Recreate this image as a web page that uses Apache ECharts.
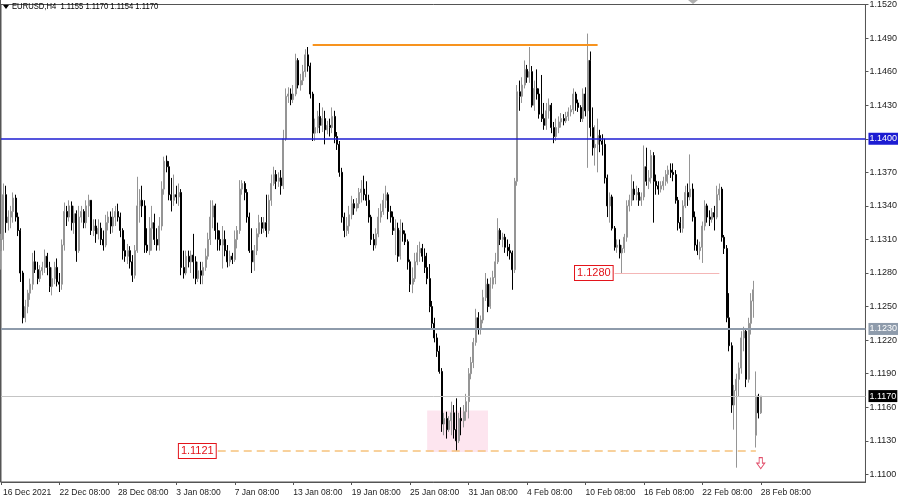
<!DOCTYPE html>
<html><head><meta charset="utf-8">
<script src="https://cdn.jsdelivr.net/npm/echarts@6/dist/echarts.min.js"></script>
<style>html,body{margin:0;padding:0;background:#fff}#c{width:900px;height:502px}</style>
</head><body><div id="c"></div>
<script>
// ---- DATA (EURUSD H4) : each candle = [open, close, low, high] ----
const symbolName = 'EURUSD,H4';
const wk16Dec = [
[1.1300,1.1310,1.1283,1.1315],[1.1310,1.1350,1.1300,1.1360],[1.1350,1.1325,1.1316,1.1358],[1.1325,1.1330,1.1318,1.1336],
[1.1330,1.1335,1.1320,1.1340],[1.1335,1.1347,1.1325,1.1352],[1.1347,1.1330,1.1326,1.1350],[1.1330,1.1318,1.1313,1.1334],
[1.1318,1.1280,1.1272,1.1320],[1.1280,1.1240,1.1235,1.1282],[1.1240,1.1250,1.1236,1.1256],[1.1250,1.1262,1.1244,1.1265],
[1.1262,1.1270,1.1256,1.1275],[1.1270,1.1290,1.1265,1.1298],[1.1290,1.1283,1.1280,1.1300],[1.1283,1.1275,1.1270,1.1290],
[1.1275,1.1282,1.1272,1.1287],[1.1282,1.1285,1.1278,1.1290],[1.1285,1.1295,1.1280,1.1301],[1.1295,1.1285,1.1278,1.1298],
[1.1285,1.1268,1.1263,1.1290],[1.1268,1.1275,1.1260,1.1285],[1.1275,1.1285,1.1270,1.1290],[1.1285,1.1272,1.1268,1.1293]];
const wk22Dec = [
[1.1272,1.1270,1.1263,1.1280],[1.1270,1.1305,1.1265,1.1310],[1.1305,1.1335,1.1300,1.1343],[1.1335,1.1330,1.1322,1.1340],
[1.1330,1.1340,1.1326,1.1345],[1.1340,1.1325,1.1318,1.1344],[1.1325,1.1333,1.1315,1.1340],[1.1333,1.1300,1.1290,1.1336],
[1.1300,1.1330,1.1298,1.1340],[1.1330,1.1335,1.1325,1.1340],[1.1335,1.1325,1.1320,1.1337],[1.1325,1.1340,1.1320,1.1345],
[1.1340,1.1345,1.1330,1.1350],[1.1345,1.1318,1.1314,1.1345],[1.1318,1.1322,1.1313,1.1328],[1.1322,1.1315,1.1307,1.1328],
[1.1315,1.1320,1.1310,1.1328],[1.1320,1.1310,1.1305,1.1325],[1.1310,1.1305,1.1300,1.1318],[1.1305,1.1325,1.1303,1.1332],
[1.1325,1.1330,1.1318,1.1335],[1.1330,1.1322,1.1315,1.1335],[1.1322,1.1330,1.1316,1.1338],[1.1330,1.1335,1.1322,1.1340]];
const wk28Dec = [
[1.1335,1.1330,1.1326,1.1342],[1.1330,1.1318,1.1312,1.1334],[1.1318,1.1300,1.1292,1.1320],[1.1300,1.1295,1.1290,1.1310],
[1.1295,1.1300,1.1288,1.1306],[1.1300,1.1290,1.1284,1.1304],[1.1290,1.1278,1.1272,1.1296],[1.1278,1.1300,1.1275,1.1305],
[1.1300,1.1340,1.1298,1.1366],[1.1340,1.1345,1.1325,1.1355],[1.1345,1.1340,1.1330,1.1358],[1.1340,1.1305,1.1298,1.1345],
[1.1305,1.1300,1.1298,1.1320],[1.1300,1.1320,1.1296,1.1330],[1.1320,1.1325,1.1300,1.1340],[1.1325,1.1310,1.1305,1.1333],
[1.1310,1.1305,1.1300,1.1320],[1.1305,1.1322,1.1300,1.1330],[1.1322,1.1355,1.1318,1.1362],[1.1355,1.1380,1.1350,1.1384],
[1.1380,1.1375,1.1370,1.1385],[1.1375,1.1350,1.1345,1.1380],[1.1350,1.1345,1.1335,1.1365],[1.1345,1.1350,1.1340,1.1368]];
const wk3Jan = [
[1.1350,1.1348,1.1342,1.1358],[1.1348,1.1352,1.1340,1.1360],[1.1352,1.1285,1.1278,1.1355],[1.1285,1.1280,1.1275,1.1300],
[1.1280,1.1295,1.1278,1.1300],[1.1295,1.1290,1.1285,1.1300],[1.1290,1.1296,1.1280,1.1300],[1.1296,1.1290,1.1275,1.1315],
[1.1290,1.1275,1.1270,1.1295],[1.1275,1.1282,1.1272,1.1290],[1.1282,1.1278,1.1270,1.1290],[1.1278,1.1285,1.1270,1.1290],
[1.1285,1.1295,1.1282,1.1302],[1.1295,1.1310,1.1292,1.1316],[1.1310,1.1330,1.1305,1.1345],[1.1330,1.1340,1.1320,1.1345],
[1.1340,1.1318,1.1310,1.1342],[1.1318,1.1310,1.1300,1.1325],[1.1310,1.1305,1.1300,1.1318],[1.1305,1.1310,1.1284,1.1322],
[1.1310,1.1300,1.1295,1.1318],[1.1300,1.1290,1.1285,1.1305],[1.1290,1.1295,1.1286,1.1300],[1.1295,1.1292,1.1288,1.1298]];
const wk7Jan = [
[1.1292,1.1310,1.1290,1.1318],[1.1310,1.1318,1.1302,1.1322],[1.1318,1.1355,1.1315,1.1363],[1.1355,1.1360,1.1350,1.1363],
[1.1360,1.1352,1.1345,1.1362],[1.1352,1.1330,1.1325,1.1355],[1.1330,1.1300,1.1298,1.1334],[1.1300,1.1290,1.1280,1.1320],
[1.1290,1.1300,1.1282,1.1305],[1.1300,1.1315,1.1296,1.1320],[1.1315,1.1325,1.1312,1.1332],[1.1325,1.1320,1.1315,1.1330],
[1.1320,1.1325,1.1316,1.1330],[1.1325,1.1318,1.1312,1.1350],[1.1318,1.1345,1.1315,1.1350],[1.1345,1.1360,1.1340,1.1368],
[1.1360,1.1368,1.1358,1.1375],[1.1368,1.1362,1.1355,1.1372],[1.1362,1.1365,1.1357,1.1370],[1.1365,1.1358,1.1350,1.1372],
[1.1358,1.1400,1.1355,1.1408],[1.1400,1.1438,1.1398,1.1445],[1.1438,1.1440,1.1432,1.1446],[1.1440,1.1435,1.1430,1.1445]];
const wk13Jan = [
[1.1435,1.1440,1.1432,1.1448],[1.1440,1.1470,1.1438,1.1476],[1.1470,1.1448,1.1445,1.1472],[1.1448,1.1452,1.1443,1.1458],
[1.1452,1.1460,1.1448,1.1466],[1.1460,1.1475,1.1455,1.1480],[1.1475,1.1465,1.1460,1.1482],[1.1465,1.1440,1.1436,1.1468],
[1.1440,1.1405,1.1398,1.1442],[1.1405,1.1410,1.1398,1.1418],[1.1410,1.1420,1.1405,1.1425],[1.1420,1.1412,1.1405,1.1432],
[1.1412,1.1418,1.1406,1.1428],[1.1418,1.1408,1.1395,1.1425],[1.1408,1.1412,1.1404,1.1416],[1.1412,1.1410,1.1402,1.1418],
[1.1410,1.1420,1.1405,1.1428],[1.1420,1.1402,1.1396,1.1425],[1.1402,1.1395,1.1390,1.1406],[1.1395,1.1370,1.1366,1.1398],
[1.1370,1.1330,1.1325,1.1374],[1.1330,1.1318,1.1312,1.1334],[1.1318,1.1322,1.1313,1.1330],[1.1322,1.1332,1.1315,1.1340]];
const wk19Jan = [
[1.1332,1.1342,1.1328,1.1349],[1.1342,1.1338,1.1332,1.1346],[1.1338,1.1342,1.1335,1.1347],[1.1342,1.1352,1.1338,1.1356],
[1.1352,1.1355,1.1343,1.1363],[1.1355,1.1350,1.1345,1.1367],[1.1350,1.1345,1.1340,1.1362],[1.1345,1.1330,1.1325,1.1350],
[1.1330,1.1310,1.1305,1.1332],[1.1310,1.1305,1.1300,1.1315],[1.1305,1.1315,1.1302,1.1320],[1.1315,1.1330,1.1312,1.1338],
[1.1330,1.1335,1.1325,1.1342],[1.1335,1.1345,1.1332,1.1351],[1.1345,1.1350,1.1338,1.1358],[1.1350,1.1335,1.1328,1.1352],
[1.1335,1.1330,1.1325,1.1340],[1.1330,1.1318,1.1314,1.1335],[1.1318,1.1320,1.1296,1.1328],[1.1320,1.1295,1.1290,1.1325],
[1.1295,1.1318,1.1292,1.1328],[1.1318,1.1315,1.1308,1.1325],[1.1315,1.1308,1.1305,1.1318],[1.1308,1.1290,1.1283,1.1310]];
const wk25Jan = [
[1.1290,1.1270,1.1263,1.1292],[1.1270,1.1275,1.1262,1.1285],[1.1275,1.1290,1.1272,1.1298],[1.1290,1.1298,1.1287,1.1305],
[1.1298,1.1302,1.1290,1.1308],[1.1302,1.1295,1.1290,1.1306],[1.1295,1.1285,1.1280,1.1302],[1.1285,1.1275,1.1270,1.1298],
[1.1275,1.1250,1.1245,1.1288],[1.1250,1.1235,1.1230,1.1255],[1.1235,1.1222,1.1218,1.1240],[1.1222,1.1210,1.1205,1.1226],
[1.1210,1.1192,1.1190,1.1215],[1.1192,1.1145,1.1138,1.1195],[1.1145,1.1150,1.1135,1.1155],[1.1150,1.1140,1.1132,1.1156],
[1.1140,1.1148,1.1138,1.1152],[1.1148,1.1155,1.1135,1.1165],[1.1155,1.1140,1.1132,1.1162],[1.1140,1.1130,1.1121,1.1168],
[1.1130,1.1150,1.1128,1.1155],[1.1150,1.1148,1.1135,1.1160],[1.1148,1.1156,1.1142,1.1162],[1.1156,1.1165,1.1148,1.1172]];
const wk31Jan = [
[1.1165,1.1190,1.1150,1.1195],[1.1190,1.1200,1.1185,1.1205],[1.1200,1.1218,1.1195,1.1222],[1.1218,1.1240,1.1215,1.1248],
[1.1240,1.1230,1.1225,1.1245],[1.1230,1.1238,1.1225,1.1242],[1.1238,1.1258,1.1235,1.1265],[1.1258,1.1270,1.1255,1.1280],
[1.1270,1.1250,1.1245,1.1275],[1.1250,1.1270,1.1248,1.1276],[1.1270,1.1276,1.1266,1.1282],[1.1276,1.1290,1.1270,1.1298],
[1.1290,1.1318,1.1288,1.1329],[1.1318,1.1310,1.1305,1.1320],[1.1310,1.1312,1.1303,1.1316],[1.1312,1.1303,1.1298,1.1315],
[1.1303,1.1300,1.1295,1.1310],[1.1300,1.1298,1.1292,1.1306],[1.1298,1.1283,1.1265,1.1300],[1.1283,1.1362,1.1280,1.1365],
[1.1362,1.1442,1.1358,1.1448],[1.1442,1.1438,1.1425,1.1452],[1.1438,1.1448,1.1432,1.1455],[1.1448,1.1462,1.1445,1.1470]];
const wk4Feb = [
[1.1462,1.1455,1.1450,1.1466],[1.1455,1.1460,1.1450,1.1482],[1.1460,1.1430,1.1428,1.1465],[1.1430,1.1445,1.1425,1.1452],
[1.1445,1.1440,1.1435,1.1462],[1.1440,1.1422,1.1418,1.1445],[1.1422,1.1418,1.1415,1.1457],[1.1418,1.1412,1.1408,1.1432],
[1.1412,1.1425,1.1408,1.1432],[1.1425,1.1430,1.1418,1.1436],[1.1430,1.1410,1.1405,1.1432],[1.1410,1.1402,1.1396,1.1415],
[1.1402,1.1410,1.1398,1.1418],[1.1410,1.1415,1.1405,1.1420],[1.1415,1.1418,1.1410,1.1423],[1.1418,1.1416,1.1412,1.1422],
[1.1416,1.1420,1.1414,1.1424],[1.1420,1.1424,1.1416,1.1428],[1.1424,1.1426,1.1420,1.1430],[1.1426,1.1440,1.1422,1.1445],
[1.1440,1.1432,1.1425,1.1442],[1.1432,1.1428,1.1424,1.1435],[1.1428,1.1418,1.1415,1.1430],[1.1418,1.1440,1.1415,1.1445]];
const wk10Feb = [
[1.1440,1.1425,1.1420,1.1446],[1.1425,1.1470,1.1374,1.1494],[1.1470,1.1410,1.1402,1.1478],[1.1410,1.1392,1.1385,1.1428],
[1.1392,1.1395,1.1376,1.1412],[1.1395,1.1403,1.1370,1.1418],[1.1403,1.1398,1.1388,1.1408],[1.1398,1.1395,1.1385,1.1404],
[1.1395,1.1365,1.1360,1.1400],[1.1365,1.1340,1.1330,1.1368],[1.1340,1.1348,1.1325,1.1352],[1.1348,1.1320,1.1318,1.1350],
[1.1320,1.1303,1.1300,1.1322],[1.1303,1.1305,1.1298,1.1310],[1.1305,1.1298,1.1293,1.1310],[1.1298,1.1302,1.1280,1.1305],
[1.1302,1.1312,1.1298,1.1315],[1.1312,1.1340,1.1308,1.1345],[1.1340,1.1345,1.1335,1.1350],[1.1345,1.1355,1.1340,1.1368],
[1.1355,1.1350,1.1345,1.1362],[1.1350,1.1352,1.1345,1.1358],[1.1352,1.1345,1.1340,1.1356],[1.1345,1.1348,1.1340,1.1352]];
const wk16Feb = [
[1.1348,1.1375,1.1345,1.1394],[1.1375,1.1362,1.1358,1.1392],[1.1362,1.1365,1.1355,1.1372],[1.1365,1.1385,1.1360,1.1390],
[1.1385,1.1362,1.1325,1.1388],[1.1362,1.1358,1.1350,1.1368],[1.1358,1.1355,1.1350,1.1362],[1.1355,1.1358,1.1352,1.1362],
[1.1358,1.1362,1.1354,1.1366],[1.1362,1.1368,1.1358,1.1372],[1.1368,1.1372,1.1360,1.1376],[1.1372,1.1370,1.1365,1.1378],
[1.1370,1.1368,1.1362,1.1378],[1.1368,1.1345,1.1342,1.1372],[1.1345,1.1325,1.1318,1.1348],[1.1325,1.1320,1.1316,1.1330],
[1.1320,1.1340,1.1316,1.1345],[1.1340,1.1352,1.1338,1.1358],[1.1352,1.1348,1.1340,1.1360],[1.1348,1.1355,1.1345,1.1386],
[1.1355,1.1330,1.1326,1.1360],[1.1330,1.1305,1.1300,1.1335],[1.1305,1.1300,1.1296,1.1310],[1.1300,1.1303,1.1292,1.1308]];
const wk22Feb = [
[1.1303,1.1322,1.1289,1.1326],[1.1322,1.1340,1.1318,1.1345],[1.1340,1.1330,1.1325,1.1342],[1.1330,1.1328,1.1322,1.1336],
[1.1328,1.1334,1.1325,1.1338],[1.1334,1.1330,1.1318,1.1340],[1.1330,1.1350,1.1328,1.1358],[1.1350,1.1355,1.1345,1.1360],
[1.1355,1.1312,1.1308,1.1357],[1.1312,1.1302,1.1297,1.1314],[1.1302,1.1240,1.1236,1.1305],[1.1240,1.1215,1.1210,1.1262],
[1.1215,1.1162,1.1155,1.1218],[1.1162,1.1175,1.1140,1.1180],[1.1175,1.1185,1.1106,1.1190],[1.1185,1.1195,1.1170,1.1200],
[1.1195,1.1222,1.1190,1.1228],[1.1222,1.1228,1.1210,1.1232],[1.1228,1.1185,1.1178,1.1230],[1.1185,1.1235,1.1182,1.1240],
[1.1235,1.1255,1.1225,1.1262],[1.1255,1.1265,1.1240,1.1273],[1.1135,1.1170,1.1124,1.1192],[1.1170,1.1155,1.1150,1.1172]];
const wk28Feb = [[1.1155,1.1170,1.1154,1.1170]];

const timeLabels = ['16 Dec 2021','22 Dec 08:00','28 Dec 08:00','3 Jan 08:00','7 Jan 08:00','13 Jan 08:00','19 Jan 08:00',
  '25 Jan 08:00','31 Jan 08:00','4 Feb 08:00','10 Feb 08:00','16 Feb 08:00','22 Feb 08:00','28 Feb 08:00'];
const timeLabelBars = [0,24,48,72,96,120,144,168,192,216,240,264,288,312];
const priceTicks = [1.1100,1.1130,1.1160,1.1190,1.1220,1.1250,1.1280,1.1310,1.1340,1.1370,1.1400,1.1430,1.1460,1.1490,1.1520];

// levels / annotations (prices)
const blueLevel = 1.1400;
const greyLevel = 1.1230;
const bidLevel = 1.1170;
const topLevel = 1.1484;       // orange resistance
const lowLevel = 1.1121;       // dashed support
const midLevel = 1.1280;       // Feb 14 low
const zoneTop = 1.1157, zoneBottom = 1.1120;

// ---- build ----
const candles = [].concat(wk16Dec, wk22Dec, wk28Dec, wk3Jan, wk7Jan, wk13Jan, wk19Jan, wk25Jan,
  wk31Jan, wk4Feb, wk10Feb, wk16Feb, wk22Feb, wk28Feb);
const totalSlots = 356;
const cats = Array.from({length: totalSlots}, (_, i) => String(i));
const last = candles[candles.length - 1];
const isLabel = (i) => timeLabelBars.indexOf(i) >= 0;

const chart = echarts.init(document.getElementById('c'), null, {renderer: 'canvas'});
const FONT = 'Liberation Sans, Arial, sans-serif';
const tag = (txt, bg) => ({show: true, position: 'end', formatter: txt, color: '#fff', backgroundColor: bg,
  padding: [2, 1, 1, 1], fontSize: 9, fontFamily: FONT, distance: 3});
const boxed = (txt) => ({show: true, position: 'start', formatter: txt, color: '#e3141b', backgroundColor: '#fff',
  borderColor: '#e3141b', borderWidth: 1, padding: [2, 2, 1, 2], fontSize: 11, fontFamily: FONT, distance: 2});

chart.setOption({
  animation: false,
  backgroundColor: '#fff',
  grid: {left: -3.3, right: 33, top: 0, bottom: 20, show: true, borderColor: '#555', borderWidth: 1},
  graphic: [
    {type: 'line', shape: {x1: 0.5, y1: 0, x2: 0.5, y2: 482}, style: {stroke: '#555', lineWidth: 1}},
    {type: 'polygon', shape: {points: [[3, 5], [9, 5], [6, 9]]}, style: {fill: '#000'}},
    {type: 'text', x: 12, y: 2, scaleX: 0.85, style: {text: symbolName + '  ' + last[0].toFixed(4) + ' ' + last[3].toFixed(4) + ' ' +
      last[2].toFixed(4) + ' ' + last[1].toFixed(4), fill: '#000', font: '9px ' + FONT}},
    {type: 'polygon', shape: {points: [[688, 0], [698, 0], [693, 4]]}, style: {fill: '#b0b0b0'}}
  ],
  xAxis: {
    type: 'category', data: cats, boundaryGap: false,
    axisLine: {show: true, lineStyle: {color: '#555'}},
    axisTick: {show: true, interval: (i) => isLabel(i), length: 3, lineStyle: {color: '#555'}},
    axisLabel: {interval: (i) => isLabel(i),
      formatter: (v) => { const k = timeLabelBars.indexOf(+v); return k === 0 ? '{f|' + timeLabels[0] + '}' : (timeLabels[k] || ''); },
      rich: {f: {padding: [0, 0, 0, 2], fontSize: 8.5, color: '#222', fontFamily: FONT}},
      align: 'left', fontSize: 8.5, color: '#222', margin: 6, fontFamily: FONT},
    splitLine: {show: false}
  },
  yAxis: {
    type: 'value', position: 'right', min: 1.10932, max: 1.1520, scale: true,
    axisLine: {show: true, lineStyle: {color: '#555'}},
    axisTick: {show: true, customValues: priceTicks, length: 3, lineStyle: {color: '#555'}},
    axisLabel: {customValues: priceTicks, formatter: (v) => v.toFixed(4), fontSize: 9, color: '#222', margin: 4, fontFamily: FONT},
    splitLine: {show: false}
  },
  series: [{
    type: 'candlestick', data: candles, barWidth: 1.5,
    itemStyle: {color: '#959595', color0: '#000', borderColor: '#959595', borderColor0: '#000', borderWidth: 1},
    markArea: {silent: true, itemStyle: {color: 'rgba(252,218,232,0.7)'},
      data: [[{coord: [175, zoneTop]}, {coord: [200, zoneBottom]}]]},
    markLine: {
      silent: true, symbol: 'none', animation: false, precision: 4,
      data: [
        {yAxis: blueLevel, lineStyle: {color: '#1c1cd2', width: 1.5, type: 'solid'}, label: tag('1.1400', '#1c1cd2')},
        {yAxis: greyLevel, lineStyle: {color: '#8e9bab', width: 2, type: 'solid'}, label: tag('1.1230', '#8e9bab')},
        {yAxis: bidLevel, lineStyle: {color: '#c4c4c4', width: 1, type: 'solid'}, label: tag('1.1170', '#000')},
        [{coord: [128, topLevel], lineStyle: {color: '#f7931e', width: 2, type: 'solid'}, label: {show: false}},
         {coord: [245, topLevel]}],
        [{coord: [89, lowLevel], lineStyle: {color: '#f6c27c', width: 1.5, type: [8, 5]}, label: boxed('1.1121')},
         {coord: [310, lowLevel]}],
        [{coord: [252, midLevel], lineStyle: {color: '#f4b6b6', width: 1, type: 'solid'}, label: boxed('1.1280')},
         {coord: [295, midLevel]}]
      ]
    },
    markPoint: {
      silent: true, animation: false,
      data: [{coord: [312, 1.1110], symbol: 'path://M3,0 L7,0 L7,6 L10,6 L5,12 L0,6 L3,6 Z', symbolSize: [8, 11],
        itemStyle: {color: '#fff', borderColor: '#e2506c', borderWidth: 1}, label: {show: false}}]
    }
  }]
});
</script></body></html>
